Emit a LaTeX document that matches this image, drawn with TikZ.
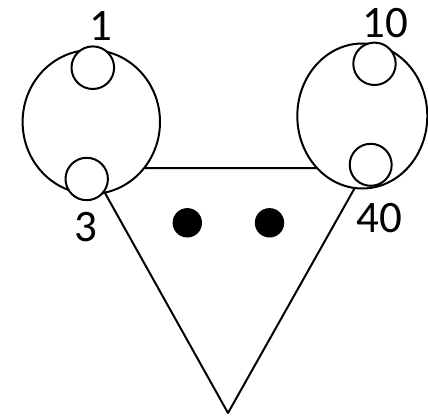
\documentclass[tikz,border=0pt]{standalone}
\usepackage{fontspec}
\setmainfont{Carlito}
\begin{document}
\begin{tikzpicture}[x=1pt,y=-1pt,line cap=round,line join=round,line width=2pt]
\useasboundingbox (0,0) rectangle (428,417);
% corners of the triangle (top ones hidden behind the big circles)
\coordinate (P) at (91,168);
\coordinate (Q) at (366,168);
\coordinate (R) at (228,413);

% centres of the big circles
\coordinate (L) at (91.3,122);
\coordinate (K) at (362.3,116);

% centres of the small circles
\coordinate (s1) at (92.8,67.7);
\coordinate (s3) at (86.7,179);
\coordinate (s10) at (374.5,63.8);
\coordinate (s40) at (370.7,164.8);

% triangle
\draw (P) -- (Q) -- (R) -- cycle;

% eyes
\fill (187.3,222.8) circle (14.7);
\fill (269.5,222.8) circle (14.7);

% big circles
\draw[fill=white] (L) ellipse [x radius=68.7,y radius=72];
\draw[fill=white] (K) ellipse [x radius=65,y radius=72.5];

% small circles
\draw[fill=white] (s1) circle (21.3);
\draw[fill=white] (s3) circle (21.2);
\draw[fill=white] (s10) circle (21.2);
\draw[fill=white] (s40) circle (21);

% labels
\tikzset{num/.style={inner sep=0pt,font=\fontsize{45}{54}\selectfont}}
\node[num] (n1)  at (101,26)  {1};
\node[num] (n3)  at (86,227)  {3};
\node[num] (n10) at (385,23)  {10};
\node[num] (n40) at (379,218) {40};

\end{tikzpicture}
\end{document}
